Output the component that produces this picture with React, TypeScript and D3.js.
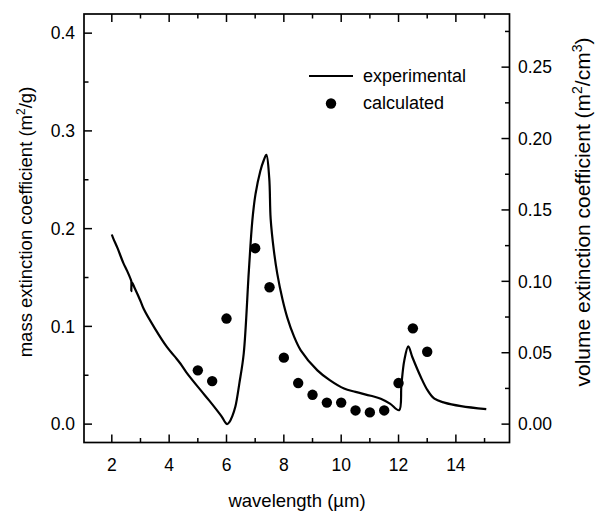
import React from 'react'
import * as d3 from 'd3'

// experimental curve (wavelength in µm, mass extinction in m²/g)
const expX = [2.0, 2.05, 2.2, 2.4, 2.53, 2.66, 2.68, 2.68, 2.7, 2.8, 3.0, 3.11, 3.5, 3.92, 4.2, 4.39, 4.6, 5.09, 5.4, 5.67, 5.85, 5.95, 6.02, 6.1, 6.2, 6.31, 6.45, 6.6, 6.78, 6.9, 7.01, 7.18, 7.3, 7.39, 7.49, 7.54, 7.65, 7.77, 7.95, 8.12, 8.35, 8.59, 9.17, 9.6, 10.1, 10.5, 11.03, 11.38, 11.7, 12.02, 12.1, 12.2, 12.34, 12.48, 12.78, 13.01, 13.25, 13.6, 14.18, 15.06]
const expY = [0.194, 0.19, 0.18, 0.165, 0.157, 0.148, 0.146, 0.136, 0.145, 0.139, 0.126, 0.118, 0.098, 0.079, 0.069, 0.062, 0.053, 0.035, 0.024, 0.014, 0.007, 0.002, 0.0, 0.002, 0.008, 0.018, 0.042, 0.072, 0.157, 0.208, 0.235, 0.259, 0.27, 0.2755, 0.252, 0.21, 0.178, 0.154, 0.128, 0.109, 0.09, 0.0755, 0.055, 0.045, 0.0364, 0.033, 0.029, 0.026, 0.021, 0.0143, 0.04, 0.065, 0.0796, 0.0687, 0.048, 0.0347, 0.026, 0.022, 0.0184, 0.0153]

// calculated points
const calcX = [5, 5.5, 6, 7, 7.5, 8, 8.5, 9, 9.5, 10, 10.5, 11, 11.5, 12, 12.5, 13]
const calcY = [0.055, 0.044, 0.108, 0.18, 0.14, 0.068, 0.042, 0.03, 0.022, 0.022, 0.014, 0.012, 0.014, 0.042, 0.098, 0.074]

const xTicks = [2, 4, 6, 8, 10, 12, 14]
const xMinor = [3, 5, 7, 9, 11, 13, 15]
const leftTicks = [0, 0.1, 0.2, 0.3, 0.4]
const leftMinor = [0.05, 0.15, 0.25, 0.35]
const rightTicks = [0, 0.05, 0.1, 0.15, 0.2, 0.25]
const rightMinor = [0.025, 0.075, 0.125, 0.175, 0.225, 0.275]

const W = 595
const H = 512
const L = 84, R = 509.5, T = 14, B = 442.5

const font = 'Liberation Sans, Arial, sans-serif'

export default function App() {
  const x = d3.scaleLinear().domain([1.03, 15.87]).range([L, R])
  const y = d3.scaleLinear().domain([-0.0188, 0.4196]).range([B, T])
  const y2 = d3.scaleLinear().domain([-0.0188 * 0.6845, 0.4196 * 0.6845]).range([B, T])

  const line = d3
    .line<number>()
    .x((d, i) => x(expX[i]))
    .y((d) => y(d))
    .curve(d3.curveCatmullRom.alpha(0.5))
  const path = line(expY) || ''

  const major = 8, minor = 4.5
  const tickSize = 17.5

  return (
    <svg width={W} height={H} style={{ position: 'absolute', left: 0, top: 0, background: '#fff' }} fontFamily={font}>
      <rect x={0} y={0} width={W} height={H} fill="#fff" />
      {/* frame */}
      <rect x={L} y={T} width={R - L} height={B - T} fill="none" stroke="#000" strokeWidth={1.7} />

      {/* x ticks bottom and top */}
      {xTicks.map(t => (
        <g key={'xt' + t}>
          <line x1={x(t)} x2={x(t)} y1={B} y2={B - major} stroke="#000" strokeWidth={1.5} />
          <line x1={x(t)} x2={x(t)} y1={T} y2={T + major} stroke="#000" strokeWidth={1.5} />
          <text x={x(t)} y={470.5} textAnchor="middle" fontSize={tickSize}>{t}</text>
        </g>
      ))}
      {xMinor.map(t => (
        <g key={'xm' + t}>
          <line x1={x(t)} x2={x(t)} y1={B} y2={B - minor} stroke="#000" strokeWidth={1.5} />
          <line x1={x(t)} x2={x(t)} y1={T} y2={T + minor} stroke="#000" strokeWidth={1.5} />
        </g>
      ))}

      {/* left axis */}
      {leftTicks.map(t => (
        <g key={'lt' + t}>
          <line x1={L} x2={L + major} y1={y(t)} y2={y(t)} stroke="#000" strokeWidth={1.5} />
          <text x={75} y={y(t) + 6.3} textAnchor="end" fontSize={tickSize}>{d3.format('.1f')(t)}</text>
        </g>
      ))}
      {leftMinor.map(t => (
        <line key={'lm' + t} x1={L} x2={L + minor} y1={y(t)} y2={y(t)} stroke="#000" strokeWidth={1.5} />
      ))}

      {/* right axis */}
      {rightTicks.map(t => (
        <g key={'rt' + t}>
          <line x1={R} x2={R - major} y1={y2(t)} y2={y2(t)} stroke="#000" strokeWidth={1.5} />
          <text x={518} y={y2(t) + 6.3} textAnchor="start" fontSize={tickSize}>{d3.format('.2f')(t)}</text>
        </g>
      ))}
      {rightMinor.map(t => (
        <line key={'rm' + t} x1={R} x2={R - minor} y1={y2(t)} y2={y2(t)} stroke="#000" strokeWidth={1.5} />
      ))}

      {/* axis titles */}
      <text x={297} y={507} textAnchor="middle" fontSize={18.5}>wavelength (µm)</text>
      <text transform={`translate(32,222) rotate(-90)`} textAnchor="middle" fontSize={18.5}>
        mass extinction coefficient (m<tspan fontSize={12} dy={-7}>2</tspan><tspan dy={7}>/g)</tspan>
      </text>
      <text transform={`translate(590,212) rotate(-90)`} textAnchor="middle" fontSize={21}>
        volume extinction coefficient (m<tspan fontSize={14} dy={-8}>2</tspan><tspan dy={8}>/cm</tspan><tspan fontSize={14} dy={-8}>3</tspan><tspan dy={8}>)</tspan>
      </text>

      {/* data */}
      <path d={path} fill="none" stroke="#000" strokeWidth={2.2} strokeLinejoin="round" />
      {calcY.map((v, i) => (
        <circle key={'c' + i} cx={x(calcX[i])} cy={y(v)} r={5.2} fill="#000" />
      ))}

      {/* legend */}
      <line x1={309} x2={353} y1={76} y2={76} stroke="#000" strokeWidth={2} />
      <text x={363} y={82} fontSize={18}>experimental</text>
      <circle cx={331} cy={103.5} r={5.2} fill="#000" />
      <text x={363} y={109} fontSize={18}>calculated</text>
    </svg>
  )
}
